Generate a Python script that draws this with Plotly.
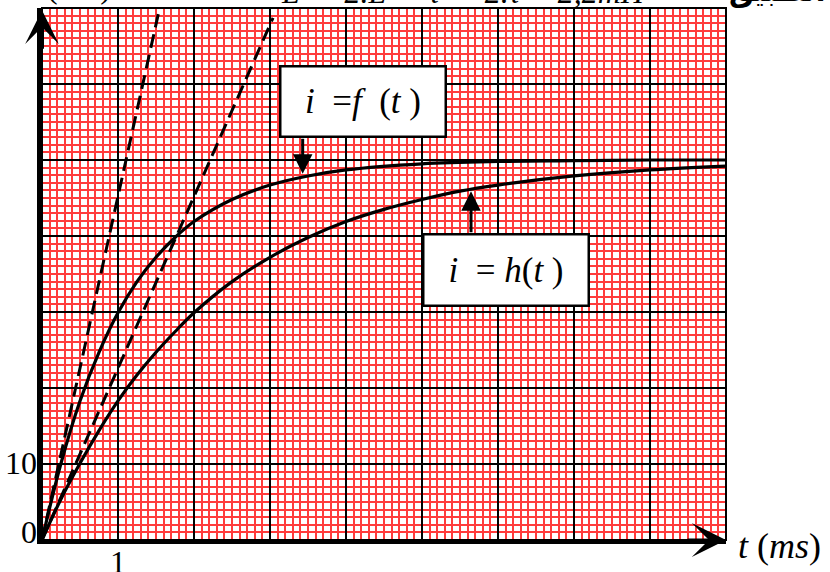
import plotly.graph_objects as go

# ---- data ----
t_f = [0, 0.25, 0.5, 0.75, 1.0, 1.25, 1.5, 1.75, 2.0, 2.5, 3.0, 3.5, 4.0, 5.0, 6.0, 7.0, 8.0, 9.0]
i_f = [0, 10.1, 18.3, 24.7, 29.9, 34.0, 37.2, 39.8, 41.9, 44.8, 46.7, 47.9, 48.7, 49.5, 49.8, 49.9, 50.0, 50.0]

t_h = [0, 0.25, 0.5, 0.75, 1.0, 1.25, 1.5, 1.75, 2.0, 2.5, 3.0, 3.5, 4.0, 4.5, 5.0, 5.5, 6.0, 7.0, 8.0, 9.0]
i_h = [0, 5.4, 10.1, 14.4, 18.3, 21.7, 24.7, 27.4, 29.9, 34.0, 37.2, 39.8, 41.9, 43.5, 44.8, 45.9, 46.7, 47.9, 48.7, 49.2]

t_tan1 = [0, 1.53]
i_tan1 = [0, 69.2]
t_tan2 = [0, 3.04]
i_tan2 = [0, 68.7]

x_tickvals = [1]
x_ticktext = ["1"]
y_tickvals = [0, 10]
y_ticktext = ["0", "10"]

label_f = "<i>i</i>  =<i>f</i>  (<i>t</i> )"
label_h = "<i>i</i>  = <i>h</i>(<i>t</i> )"
x_title = "<i>t</i> (<i>ms</i>)"
y_title = "<i>i</i> (<i>mA</i>)"
top_text = "<i>L′ = 2.L ⇒ τ′ = 2.τ = 2,2mH</i>"
arabic_text = "<b>تطبيق:</b>"

SERIF = "Liberation Serif"

fig = go.Figure()
fig.add_trace(go.Scatter(x=t_tan1, y=i_tan1, mode="lines",
                         line=dict(color="black", width=3, dash="14px,7px"), hoverinfo="skip"))
fig.add_trace(go.Scatter(x=t_tan2, y=i_tan2, mode="lines",
                         line=dict(color="black", width=3, dash="14px,7px"), hoverinfo="skip"))
fig.add_trace(go.Scatter(x=t_f, y=i_f, mode="lines",
                         line=dict(color="black", width=3.2, shape="spline"), hoverinfo="skip"))
fig.add_trace(go.Scatter(x=t_h, y=i_h, mode="lines",
                         line=dict(color="black", width=3.2, shape="spline"), hoverinfo="skip"))

annotations = [
    # label boxes
    dict(x=4.23, y=57.7, xref="x", yref="y", text=label_f, showarrow=False,
         font=dict(family=SERIF, size=35, color="black"),
         bgcolor="white", bordercolor="black", borderwidth=2.5, borderpad=1,
         width=161, height=66),
    dict(x=6.105, y=35.5, xref="x", yref="y", text=label_h, showarrow=False,
         font=dict(family=SERIF, size=35, color="black"),
         bgcolor="white", bordercolor="black", borderwidth=2.5, borderpad=1,
         width=161, height=67),
    # pointer arrows
    dict(x=3.43, y=48.2, ax=3.43, ay=53.0, xref="x", yref="y", axref="x", ayref="y",
         text="", showarrow=True, arrowhead=2, arrowsize=1.3, arrowwidth=3, arrowcolor="black"),
    dict(x=5.645, y=45.9, ax=5.645, ay=40.3, xref="x", yref="y", axref="x", ayref="y",
         text="", showarrow=True, arrowhead=2, arrowsize=1.3, arrowwidth=3, arrowcolor="black"),
    # axis arrows
    dict(x=0, y=69.7, ax=0, ay=40, xref="x", yref="y", text="", showarrow=True,
         arrowhead=3, arrowsize=1.4, arrowwidth=4, arrowcolor="black"),
    dict(x=9, y=0, ax=-40, ay=0, xref="x", yref="y", text="", showarrow=True,
         arrowhead=3, arrowsize=1.9, arrowwidth=3, arrowcolor="black"),
    # axis title
    dict(x=1, y=0, xref="paper", yref="paper", xanchor="left", yanchor="middle",
         xshift=10, yshift=-6, text=x_title, showarrow=False,
         font=dict(family=SERIF, size=36, color="black")),
    # cut-off texts at the top
    dict(x=0.041, y=1, xref="paper", yref="paper", xanchor="center", yanchor="bottom",
         yshift=1, text=y_title, showarrow=False,
         font=dict(family=SERIF, size=32, color="black")),
    dict(x=(279 - 42) / 684, y=1, xref="paper", yref="paper", xanchor="left", yanchor="bottom",
         yshift=-4, text=top_text, showarrow=False,
         font=dict(family=SERIF, size=32, color="black")),
    dict(x=(828 - 42) / 684, y=1, xref="paper", yref="paper", xanchor="right", yanchor="bottom",
         yshift=-2, text=arabic_text, showarrow=False,
         font=dict(family="DejaVu Sans", size=28, color="black")),
]

fig.update_layout(
    width=830, height=572,
    margin=dict(l=42, r=104, t=8, b=32),
    paper_bgcolor="white", plot_bgcolor="white",
    showlegend=False,
    annotations=annotations,
    shapes=[dict(type="rect", xref="paper", yref="paper", x0=0, x1=1, y0=0, y1=1,
                 line=dict(color="black", width=2), layer="above")],
)
fig.update_xaxes(
    range=[0, 9], tickmode="linear", tick0=0, dtick=1, showticklabels=False, ticks="",
    showgrid=True, gridcolor="black", gridwidth=2,
    minor=dict(dtick=0.1, showgrid=True, gridcolor="rgb(255,60,60)", gridwidth=2),
    zeroline=False, showline=True, linecolor="black", linewidth=4,
    fixedrange=True,
)
fig.update_yaxes(
    range=[0, 70], tickmode="linear", tick0=0, dtick=10, showticklabels=False, ticks="",
    showgrid=True, gridcolor="black", gridwidth=2,
    minor=dict(dtick=1, showgrid=True, gridcolor="rgb(255,60,60)", gridwidth=2),
    zeroline=False, showline=True, linecolor="black", linewidth=5,
    fixedrange=True,
)

# tick labels as annotations at the axis positions
for v, s in zip(x_tickvals, x_ticktext):
    fig.add_annotation(x=v, y=0, xref="x", yref="y", yanchor="top", yshift=-2, text=s,
                       showarrow=False, font=dict(family=SERIF, size=32, color="black"))
for v, s in zip(y_tickvals, y_ticktext):
    fig.add_annotation(x=0, y=v, xref="x", yref="y", xanchor="right", xshift=-3,
                       yshift=(8 if v == 0 else 1), text=s,
                       showarrow=False, font=dict(family=SERIF, size=32, color="black"))

fig.write_html("out.html", config={"displayModeBar": False},
               post_script="document.body.style.margin='0px';")
